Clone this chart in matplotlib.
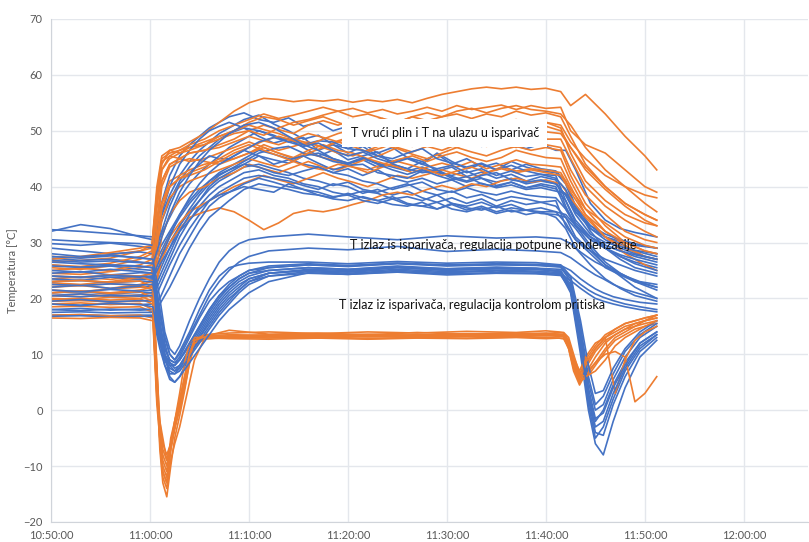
import numpy as np
import pandas as pd
import matplotlib
matplotlib.use('Agg')
import matplotlib.pyplot as plt
import matplotlib.dates as mdates

# Minutes after 11:00:00 (negative = before 11:00)
blue_hot_t = [-10, -7, -4, -1, 0.3, 1, 2, 3, 4, 5, 6, 7,
              8, 9.5, 11, 12.5, 14, 15.5, 17, 18.5, 20, 21.5, 23, 24.5, 26, 27.5, 29, 30.5, 32, 33.5, 35, 36.5, 38, 39.5, 41,
              42, 43, 44.5, 46, 47.5, 49, 51.2]
blue_hot = [
    [32.3, 32.0, 31.6, 31.2, 31.0, 36, 42, 45.5, 47.5, 49, 50.5, 51.5,
     52.5, 53.2, 52, 51.5, 52.3, 50.8, 51.5, 50, 50.8, 49.5, 50.2, 48.8, 49.5, 48.3, 49, 47.8, 48.5, 47.2, 48, 47.5, 46.8, 47.6, 46.5,
     46.5, 43, 37, 34, 32.5, 31.8, 31],
    [32.0, 33.2, 32.5, 31.0, 30.5, 34, 38.5, 42, 44.5, 46.5, 48, 49.5,
     50.5, 52, 52.8, 51.2, 50, 48.5, 49.2, 47.5, 46.8, 47.8, 46, 47, 45.2, 44.5, 45.8, 44, 45, 43.5, 44.2, 43, 44, 43.2, 42.8,
     41, 36.5, 33, 31, 29.8, 28.5, 27.5],
    [29.8, 29.5, 29.9, 29.3, 29.0, 33, 37.5, 41, 43.5, 45.5, 47, 48.5,
     49.5, 50.5, 49, 47.8, 48.5, 47, 45.5, 46.5, 44.8, 45.5, 46.2, 44, 43.2, 44.5, 42.8, 43.5, 41.8, 42.6, 41.5, 42.2, 41, 41.8, 41.2,
     36.5, 33, 30.5, 29, 27.5, 26.5, 25.5],
    [29.0, 28.5, 28.0, 28.3, 28.0, 31, 34.5, 38, 40.5, 42.5, 44, 45.5,
     47, 48.5, 50, 49.2, 48, 48.8, 46.5, 47.5, 46, 47.2, 45.5, 44.5, 45.2, 44, 46, 44.5, 43.2, 44, 43, 44.5, 43.5, 42.8, 42.5,
     40.5, 36, 32.5, 31, 30.2, 29.5, 29],
    [27.2, 26.8, 27.0, 26.5, 26.3, 29, 32, 35, 37.5, 39.5, 41, 42.5,
     43.5, 45, 46.5, 45.8, 45, 44, 43.5, 42.5, 43.2, 42, 43, 41.5, 40.8, 41.5, 40.5, 41.2, 40, 40.6, 39.8, 40.3, 39.5, 39.8, 39.2,
     38.8, 36.5, 32, 29, 27, 25.5, 24.5],
    [26.0, 25.5, 25.8, 25.2, 25.0, 28, 31.5, 34.5, 37, 39, 41, 42.2,
     43, 44, 45.5, 44.8, 44.2, 45.5, 46, 45, 44.2, 44.8, 43.5, 44, 43.2, 42.5, 42.8, 41.5, 40.8, 41.5, 40.2, 40.8, 39.8, 40.2, 39.6,
     37.5, 34, 31, 29.5, 28.5, 27.5, 26.5],
    [24.5, 24.8, 24.2, 24.6, 24.5, 27, 30, 33, 35.5, 37.5, 39.5, 41,
     42, 43.5, 44, 43.2, 42.5, 41.5, 41, 40.2, 40.8, 39.5, 39, 39.8, 40.5, 39.2, 38.5, 39.2, 38, 38.6, 37.5, 38.2, 37.8, 37.2, 37.5,
     33, 30.5, 28.5, 27, 26, 25, 24],
    [22.0, 22.4, 21.8, 22.2, 22.0, 25, 29, 33, 36, 38.5, 40.5, 42,
     43, 44.5, 46, 46.8, 47.2, 46, 45.5, 44.5, 44, 45, 44.2, 43.5, 42.8, 43.5, 42.5, 42, 42.8, 41.5, 40.8, 41.5, 40.5, 41, 40.5,
     38.5, 35.5, 33, 31.5, 30.5, 29.8, 29],
    [20.5, 20.8, 20.3, 20.6, 20.5, 23, 27, 31, 34, 36.5, 38.5, 40,
     41, 42.5, 43, 42, 41.5, 40.5, 40, 39, 38.5, 39.2, 38.8, 37.8, 38.2, 37.5, 38.5, 37, 36.5, 37.2, 36.2, 36.8, 35.8, 36.2, 35.5,
     35, 33, 29.5, 26.5, 24.5, 23, 21.5],
    [19.0, 18.8, 19.2, 18.9, 19.0, 22, 26, 29.5, 32.5, 35, 37.5, 39,
     40, 41.5, 42, 41.5, 41, 40.2, 39.5, 40.5, 40, 38.8, 39.5, 38.5, 39.2, 38, 37.2, 38, 37, 37.8, 36.5, 37.5, 36.8, 37.2, 36.5,
     34.5, 31, 28.5, 26, 24.5, 23.2, 22],
    [18.0, 17.8, 18.1, 17.9, 18.0, 20, 24, 28, 31, 34, 36.5, 38,
     39, 40.5, 41.5, 40.8, 40, 39.5, 39, 38.2, 38.5, 37.5, 37, 37.8, 36.8, 36.5, 37.2, 36, 35.5, 36.2, 35.2, 35.8, 35, 35.5, 34.5,
     32.5, 29, 26, 23.5, 21.8, 20.5, 19.5],
    [17.0, 17.1, 16.9, 17.0, 17.0, 19, 22, 25.5, 29, 32, 34.5, 36,
     37.5, 39.5, 40.5, 40, 39.5, 38.8, 38.5, 37.8, 37.5, 38.2, 37.5, 36.8, 36.5, 37.2, 36, 36.8, 35.8, 36.5, 35.5, 36.2, 35.8, 35.5, 35.5,
     33.5, 30.5, 28, 25.5, 24.2, 23, 22],
    [30.5, 30.2, 30.0, 29.8, 29.5, 34, 40, 44, 46.5, 48.5, 50, 50.8,
     51.5, 50.5, 50, 49, 48.5, 47.5, 48.2, 48, 46.8, 46.5, 45.5, 45, 46, 46.8, 45, 44.2, 43.5, 44.2, 43, 43.8, 42.8, 42.2, 42,
     37.5, 33.5, 31, 29.5, 28.5, 27.8, 27],
    [28.0, 27.5, 27.8, 27.2, 27.0, 31, 36.5, 40.5, 42.5, 44, 45.5, 45,
     45, 46.5, 45.5, 44, 44.8, 45.5, 44.2, 43, 43.8, 44, 42.5, 42, 41.5, 42.8, 43, 41.8, 41, 42, 42.5, 41.2, 40.8, 41.2, 40.5,
     38.5, 35, 31.5, 30, 29.3, 28.6, 28],
    [23.5, 23.2, 23.8, 23.4, 23.5, 26, 29, 32, 34, 36, 37.5, 38.5,
     39, 40, 39.5, 39, 40.5, 39.5, 38.5, 38, 38.8, 38, 37.5, 38.2, 37, 36.5, 36, 37, 36.2, 35.8, 36.5, 35.5, 35.8, 35.2, 35,
     34.5, 32.5, 29, 26, 24, 22, 20],
    [21.0, 21.2, 20.8, 21.1, 21.0, 24, 28, 32, 35, 37.5, 40, 41.5,
     42.5, 44, 43.5, 42.5, 42, 42.8, 43.5, 42.5, 42, 41, 40.5, 39.5, 40.2, 40.8, 39.5, 39, 39.8, 39, 38.5, 39.2, 38.5, 38.2, 38,
     36, 33, 31, 29, 27.5, 26.2, 25],
    [26.8, 26.5, 26.7, 26.4, 26.2, 30, 35, 39, 42, 44.5, 46.5, 48,
     49.5, 51, 51.5, 50.5, 49, 47.5, 46.5, 45, 44.2, 45.2, 44, 43, 42.2, 43, 42, 41.2, 41.8, 40.5, 40, 40.8, 39.8, 40.5, 40,
     36, 33, 30.5, 29, 27.8, 27, 26],
    [24.0, 23.7, 24.1, 23.8, 23.8, 27, 31, 35, 38, 40.5, 42.5, 44,
     45, 46.5, 48, 48.8, 48, 47.2, 47.8, 46.5, 45.5, 46.2, 45, 44.2, 45, 44, 43.2, 43.8, 42.5, 43.2, 42, 42.8, 41.8, 42.2, 41.5,
     39.5, 35.5, 32.5, 30.5, 29, 28, 27],
]

blue_out_t = [-10, -7, -4, -1, 0.3, 1, 1.5, 2, 2.5, 3, 4, 5, 6, 7, 8, 9, 10, 12, 16, 20, 25, 30, 35, 39,
              41.5, 42.5, 43.5, 44.3, 45, 45.8, 46.8, 48, 49.5, 51.2]
blue_out = [
    [26.5, 26.2, 26.0, 25.8, 25.5, 18, 12, 8.5, 7.5, 8, 11, 14, 17, 19.5, 21.5, 23, 24, 25, 25.5, 25.2, 25.8, 25.3, 25.6, 25.4, 24.8, 22, 13, 3, -2, 0, 4.5, 8.5, 12, 14],
    [25.0, 24.7, 25.2, 24.8, 24.5, 16, 10, 6, 5, 6, 9.5, 13, 16, 18.5, 20.5, 22, 23.5, 24.5, 25, 24.8, 25.5, 25, 25.3, 25.2, 24.8, 21.5, 11, 1, -5, -3, 2, 7, 11, 13.5],
    [23.0, 23.2, 22.8, 23.1, 23.0, 15, 11, 9, 8.5, 9, 11.5, 14.5, 17.5, 20, 22, 23.5, 24.5, 25.5, 26, 25.7, 26.2, 25.8, 26, 25.9, 25.6, 23, 14, 5, 0, 1, 5.5, 9.5, 13, 15],
    [21.5, 21.2, 21.6, 21.3, 21.5, 14, 10, 8, 7, 7.5, 10, 13, 15.5, 18, 20, 21.5, 23, 24, 24.8, 24.5, 25, 24.6, 24.9, 24.7, 24.4, 21, 10, 0, -6, -8, -2, 4, 9.5, 12.5],
    [19.5, 19.8, 19.4, 19.6, 19.5, 13, 9.5, 8, 8, 9, 12, 15, 18, 20.5, 22.5, 24, 25, 25.5, 26, 25.8, 26.3, 25.9, 26.1, 26, 25.7, 23.5, 15, 6, 1, 2.5, 6.5, 10.5, 13.5, 15.5],
    [18.0, 18.2, 17.9, 18.1, 18.0, 12, 9, 7.5, 7, 8, 10.5, 13.5, 16.5, 19, 21, 22.5, 23.5, 24.5, 25, 24.7, 25.2, 24.8, 25, 24.9, 24.6, 22, 12, 2, -4, -4.5, 1, 6, 10.5, 13],
    [16.8, 16.9, 16.7, 16.8, 16.8, 11, 8, 6.5, 6.5, 7.5, 10, 12.5, 15, 17.5, 19.5, 21.5, 23, 24.5, 25.2, 25, 25.5, 25.1, 25.3, 25.2, 24.9, 22.5, 13, 4, -1.5, -0.5, 4, 8, 12, 14],
    [24.0, 23.8, 24.1, 23.9, 24.0, 17, 13, 10, 9, 10.5, 14, 18, 21.5, 24, 25.5, 26, 26.3, 26.5, 26.5, 26.2, 26.6, 26.3, 26.5, 26.4, 26, 24, 16, 8, 3, 3.5, 7.5, 11, 14, 16],
    [20.5, 20.3, 20.6, 20.4, 20.5, 13.5, 10, 8.5, 8, 9, 12, 15, 18, 20.5, 22, 23.5, 24.5, 25, 25.5, 25.2, 25.6, 25.3, 25.5, 25.4, 25.2, 24, 22.5, 21.5, 20.8, 20.2, 19.6, 19, 18.5, 18],
    [17.5, 17.6, 17.4, 17.5, 17.5, 12, 9, 7, 6.5, 7, 9.5, 12, 14.5, 17, 19, 21, 22.5, 24, 24.5, 24.3, 24.8, 24.4, 24.6, 24.5, 24.3, 23.2, 21.8, 20.8, 20, 19.5, 19, 18.5, 18, 17.6],
    [22.5, 22.3, 22.6, 22.4, 22.5, 15.5, 11, 9, 8.5, 9.5, 13, 16.5, 19.5, 21.5, 23, 24, 25, 25.8, 26.2, 25.9, 26.3, 26, 26.2, 26.1, 25.9, 25, 23.5, 22.5, 21.7, 21, 20.3, 19.8, 19.3, 19],
    [27.5, 27.2, 27.6, 27.3, 27.0, 20, 14, 11, 10, 11.5, 16, 20, 23.5, 26.5, 28.5, 29.8, 30.5, 31, 31.5, 31, 30.5, 31.2, 30.8, 31, 30.7, 29.8, 28.3, 27.3, 26.5, 25.8, 25, 24, 23, 22.5],
    [25.8, 25.6, 25.9, 25.7, 25.5, 18, 13, 10, 9, 10, 13.5, 17, 20.5, 23, 25, 26.5, 27.5, 28.5, 29, 28.7, 29.3, 28.4, 28.8, 28.5, 28.2, 27.3, 26, 25, 24.2, 23.5, 22.5, 21.6, 20.8, 20],
    [19.0, 18.7, 19.1, 18.9, 18.5, 12.5, 8, 5.5, 5, 6, 8.5, 11, 13.5, 16, 18, 19.5, 21, 23, 24.6, 24.3, 24.7, 24.2, 24.5, 24.4, 24.1, 21.5, 11.5, 2.5, -3, -2, 3, 7.5, 11.5, 13.5],
]

orange_hot_t = [-10, -7, -4, -1, 0.2, 0.7, 1.2, 2, 3, 4,
                5.5, 7, 8.5, 10, 11.5, 13, 14.5, 16, 17.5, 19, 20.5, 22, 23.5, 25, 26.5, 28, 29.5, 31, 32.5, 34, 35.5, 37, 38.5, 40, 41.5,
                42.5, 44, 46, 48, 50, 51.2]
orange_hot = [
    [27.5, 27.3, 27.8, 28.5, 29, 38, 44, 46.5, 47, 48,
     49.5, 51.5, 53.5, 55, 55.8, 55.6, 55.2, 55.5, 55.3, 55.6, 55.1, 55.5, 55.2, 55.6, 55, 55.8, 56.5, 57, 57.5, 57.8, 57.5, 57.8, 57.4, 57.6, 57,
     54.5, 56.5, 53, 49, 45.5, 43],
    [26.5, 26.8, 27.2, 28.5, 29.5, 39, 45, 46, 46.5, 47.5,
     48.5, 50, 51, 52, 53, 52.2, 52.8, 53.5, 54.2, 53.5, 54, 53.2, 53.8, 53, 53.5, 54.2, 53.5, 54.5, 53.8, 54.2, 54.6, 53.8, 54.5, 54, 54.2,
     50, 47.5, 46, 43, 40, 39],
    [25.5, 25.2, 25.8, 27, 28, 37, 43, 45.5, 46.5, 47,
     47.5, 48.5, 49.5, 50, 51, 50.2, 49.5, 51, 51.8, 51, 52, 51.2, 50.5, 51.5, 52.5, 51.8, 52.5, 53, 52.2, 53, 52.5, 53.5, 52.8, 53.2, 52.5,
     49, 44, 40, 37, 35, 34],
    [24.5, 24.3, 24.8, 25.5, 26, 34, 41, 44, 45, 46,
     46.5, 47, 48, 49, 48.2, 47.5, 48.5, 47.8, 47, 48.2, 49, 48.5, 47.8, 48.5, 49.5, 48.8, 49.5, 50.5, 49.8, 50.5, 51, 50.2, 51, 51.5, 50.5,
     46, 41, 37.5, 35, 33.5, 33],
    [23.5, 23.8, 23.4, 24, 24.5, 32, 40, 43.5, 44.5, 45,
     44.5, 44, 45, 46, 47, 46, 45.2, 46.5, 47.5, 46.5, 46, 45, 45.8, 47, 46.2, 47.2, 46.5, 47.5, 48.2, 47.2, 48, 47, 48.5, 47.5, 47,
     43, 38.5, 35, 32, 30.5, 30],
    [22.0, 22.3, 21.8, 22.5, 23, 30, 37, 41, 42, 43,
     44, 44.5, 45, 46, 47.5, 46.5, 47.2, 48, 47, 46, 45.5, 46.5, 47.5, 46.8, 45.8, 45, 46, 47, 46.2, 45.5, 46.5, 47.2, 46.5, 47, 46.5,
     42, 37, 33, 30, 28.5, 28],
    [21.5, 21.2, 21.7, 22, 22, 28, 34, 38, 40, 41,
     42, 43, 44, 45, 44.2, 43.5, 44.5, 46, 45.2, 44.5, 43.5, 43, 44, 44.8, 45.5, 44.5, 45.5, 46.2, 45.2, 44.5, 45.2, 46.5, 45.8, 45.2, 45,
     41, 36, 32, 29.5, 27.5, 27],
    [20.5, 20.8, 20.4, 20.6, 21, 26, 31, 35, 37.5, 39,
     40, 41.5, 42.5, 44, 43.2, 42.5, 43.5, 44.5, 43.5, 43, 44, 45, 44.2, 43.5, 42.5, 43.5, 44.2, 43.5, 44.5, 43.2, 44, 44.8, 44, 43.8, 43.5,
     40, 35, 31, 28, 26, 25],
    [20.0, 19.8, 20.2, 20, 20.5, 24, 28, 31, 33.5, 35.5,
     37, 38.5, 40, 41, 42, 41.2, 40.5, 41.5, 42.5, 41.5, 40.8, 40, 41, 42, 41.5, 42.2, 43, 42.2, 41.5, 42.5, 43.5, 42.8, 43.2, 43, 42.5,
     39.5, 36, 33.5, 31, 29.5, 29],
    [19.5, 19.6, 19.4, 19.5, 19.8, 23, 27, 30, 32.5, 34.5,
     35.5, 36.2, 35.5, 34, 32.3, 33.5, 35.2, 35.8, 35.5, 36, 36.8, 37.5, 38.5, 39, 38.5, 39.5, 40.2, 39.5, 40.5, 40, 41, 41.5, 40.8, 41.2, 40.5,
     38, 34.5, 31, 29, 27.5, 27],
    [27.0, 27.5, 28.2, 29, 29.5, 40, 45.5, 46.5, 46, 47,
     48, 49, 50, 51.5, 52.5, 52, 51, 51.8, 52.5, 51.5, 50.5, 51.5, 52.2, 51, 50.2, 51, 50.5, 51.5, 50.8, 50.2, 51.5, 52, 51.2, 51.5, 51,
     48, 45, 42, 40, 38.5, 38],
    [26.0, 25.7, 26.3, 27.5, 28.5, 38, 44.5, 45.5, 45, 44.5,
     45, 46, 47, 48, 47, 46, 45, 46, 47, 48, 47.2, 46.2, 47, 48, 47.2, 48.5, 47.8, 47, 48, 49, 48.2, 48.8, 49.2, 48.5, 48.5,
     45, 40, 36.5, 34, 32, 31],
    [23.0, 23.3, 22.8, 23.5, 24, 33, 41, 44, 45, 46,
     46.5, 47.5, 48.5, 50, 49.2, 50.5, 51.5, 52, 52.8, 53.5, 52.5, 53, 52.2, 51.5, 52.5, 53.2, 52.5, 53.5, 54, 53.2, 54, 54.5, 53.8, 53.5, 53,
     51, 47, 43, 40, 37, 35.5],
    [21.0, 21.3, 21.0, 21.5, 22, 29, 36, 40, 41.5, 42.5,
     43.5, 45, 46.5, 47.5, 46.5, 45.5, 44.5, 43.5, 43, 44, 43.5, 42.5, 43.5, 44.5, 43.8, 43, 42, 42.8, 43.5, 42.5, 43.2, 42.5, 43, 42.5, 42,
     39, 35, 32, 30, 28.5, 28],
    [25.0, 25.4, 25.0, 26, 27, 36, 43, 45, 46, 46.5,
     47.5, 49, 50, 51, 50.2, 49.5, 48.5, 49.5, 48.8, 48, 49, 48.2, 47.5, 48.5, 49.2, 48.2, 47.5, 48.8, 49.8, 50.5, 49.5, 49, 50.2, 49.8, 49.5,
     47, 43.5, 40, 37, 35, 34],
    [22.8, 22.5, 23.0, 23.8, 24.5, 31, 37, 40, 41.5, 42,
     43, 44.5, 46, 47, 48.2, 49, 48.2, 47.5, 48.5, 49.5, 50.2, 49.5, 48.5, 49.2, 50, 49.2, 48.5, 49.5, 50.5, 49.8, 50.5, 51.2, 50.5, 50.8, 50,
     47, 43, 39.5, 36.5, 34, 33],
]

orange_out_t = [-10, -7, -4, -1, 0.3, 0.7, 1.0, 1.3, 1.7, 2.1, 2.5, 3, 3.5, 4, 4.5, 5.5, 8, 12, 17, 22, 27, 32, 37, 40,
                41.3, 41.8, 42.3, 42.8, 43.4, 44, 45, 46, 47, 48, 49, 50, 51.2]
orange_out = [
    [24.0, 23.8, 24.2, 24.0, 23, 8, -4, -9, -11, -5, -2, 1.5, 6, 10, 12.5, 13, 13.2, 13.5, 13.3, 13.6, 13.4, 13.7, 13.5, 13.8, 13.6, 13.5, 12, 8, 5, 7.5, 10.5, 12.5, 13.5, 14.5, 15, 15.5, 16],
    [22.5, 22.3, 22.6, 22.4, 21.5, 6, -6, -12, -14, -9, -6, -3, 1, 5, 9, 12.8, 13, 13.2, 13.1, 13.4, 13.2, 13.5, 13.3, 13.5, 13.4, 13.3, 11, 7, 4.5, 6.5, 9.5, 12, 13.5, 14.5, 15.5, 16, 16.5],
    [21.0, 21.3, 20.9, 21.2, 20, 5, -7, -13, -15.5, -10, -5, -1, 3.5, 8.5, 11.5, 12.8, 12.9, 13.1, 12.9, 13.2, 13, 13.3, 13.1, 13.4, 13.2, 13.1, 11.5, 8.5, 6, 6.5, 8.5, 11, 13, 14, 15, 16, 17],
    [19.8, 20.0, 19.7, 19.9, 19, 4, -5, -10, -12, -7, -3.5, 0.5, 5, 9.5, 12.5, 13.2, 14.3, 13.6, 13.8, 13.5, 13.9, 13.6, 13.8, 13.7, 13.9, 13.8, 12.5, 9, 6, 5.5, 8, 10.5, 12.5, 13.5, 14.5, 15, 15.5],
    [18.5, 18.6, 18.4, 18.5, 17.5, 2, -3, -6, -8, -6, -3, 0, 4, 8.5, 12, 13, 13.3, 13.2, 13.4, 13.1, 13.3, 13.2, 13.5, 13.3, 13.4, 13.3, 12.5, 9.5, 7, 9.5, 12, 13, 3, 9, 12.5, 14, 15],
    [17.0, 17.1, 16.9, 17.0, 16.5, 3, -2, -5, -9, -6, -3, 1, 5, 9.5, 12, 12.8, 13, 12.9, 13.1, 12.8, 13, 12.9, 13.1, 13, 12.9, 12.8, 11, 7.5, 5, 6, 8.5, 10, 10.5, 9.5, 1.5, 3, 6],
    [16.5, 16.4, 16.6, 16.5, 16, 1, -5, -11, -13, -7, -2, 3, 8.5, 12, 13, 13, 12.8, 12.7, 12.9, 12.7, 12.9, 12.8, 13, 12.8, 12.9, 12.8, 11.5, 8, 5.5, 8, 11, 13, 14, 15, 15.5, 16, 16.5],
    [20.5, 20.3, 20.6, 20.4, 19.5, 7, -2, -7, -9, -6.5, -3, 1, 5, 9.5, 12.5, 13.5, 13.8, 14, 13.7, 14, 13.8, 14.1, 13.9, 14.2, 14, 13.9, 13, 10, 6.5, 8.5, 11, 13, 14.5, 15.5, 16, 16.5, 17],
    [23.0, 23.2, 22.9, 23.1, 22, 7, -5, -11, -13, -7, -3, 1, 5.5, 9.5, 12.5, 13.3, 13.5, 13.4, 13.6, 13.3, 13.5, 13.4, 13.6, 13.5, 13.6, 13.5, 12, 8, 6, 9, 11.5, 13.5, 14.5, 15.5, 16, 16.5, 17],
    [19.0, 19.2, 18.9, 19.1, 18, 3, -3, -8, -10, -6, -2, 2, 6, 10, 12.5, 13.1, 13.2, 13.3, 13.1, 13.4, 13.2, 13.5, 13.3, 13.4, 13.3, 13.2, 12, 9, 6.5, 6, 7, 9, 11.5, 13, 14, 15, 16],
]

labels = ['T vrući plin i T na ulazu u isparivač',
          'T izlaz is isparivača, regulacija potpune kondenzacije',
          'T izlaz iz isparivača, regulacija kontrolom pritiska']

BLUE = '#4472C4'
ORANGE = '#ED7D31'
BASE = pd.Timestamp('2020-01-01 11:00:00')


def to_time(minutes):
    return BASE + pd.to_timedelta(minutes, unit='min')


plt.rcParams['font.family'] = ['Lato', 'DejaVu Sans']

fig = plt.figure(figsize=(8.09, 5.42), dpi=100)
ax = fig.add_axes([0.063, 0.037, 0.936, 0.928])

# interleave the series so neither colour sits fully on top
tbh, tbo = to_time(blue_hot_t), to_time(blue_out_t)
toh, too = to_time(orange_hot_t), to_time(orange_out_t)
for i in range(max(len(blue_hot), len(orange_hot))):
    if i < len(blue_hot):
        ax.plot(tbh, blue_hot[i], color=BLUE, lw=1.2)
    if i < len(orange_hot):
        ax.plot(toh, orange_hot[i], color=ORANGE, lw=1.2)
for i in range(max(len(blue_out), len(orange_out))):
    if i < len(blue_out):
        ax.plot(tbo, blue_out[i], color=BLUE, lw=1.2)
    if i < len(orange_out):
        ax.plot(too, orange_out[i], color=ORANGE, lw=1.2)

ax.set_xlim(to_time(-10), to_time(66.5))
ax.set_ylim(-20, 70)
ax.set_yticks(range(-20, 71, 10))
ax.xaxis.set_major_locator(mdates.MinuteLocator(byminute=[0, 10, 20, 30, 40, 50]))
ax.xaxis.set_major_formatter(mdates.DateFormatter('%H:%M:%S'))

ax.grid(True, color='#E4E7EC', lw=1)
ax.set_axisbelow(True)
for s in ['top', 'right']:
    ax.spines[s].set_visible(False)
for s in ['left', 'bottom']:
    ax.spines[s].set_color('#D0D4DA')
ax.tick_params(length=0, labelsize=8, colors='#595959', pad=6)
ax.set_ylabel('Temperatura [°C]', fontsize=8, color='#595959', labelpad=4)

ax.text(to_time(29.8), 49.6, labels[0], ha='center', va='center', fontsize=9,
        color='#111111', zorder=10,
        bbox=dict(facecolor='white', edgecolor='none', pad=6))
ax.text(to_time(34.7), 29.5, labels[1], ha='center', va='center', fontsize=9,
        color='#111111', zorder=10)
ax.text(to_time(32.5), 18.8, labels[2], ha='center', va='center', fontsize=9,
        color='#111111', zorder=10)

fig.savefig('out.png', dpi=100)
